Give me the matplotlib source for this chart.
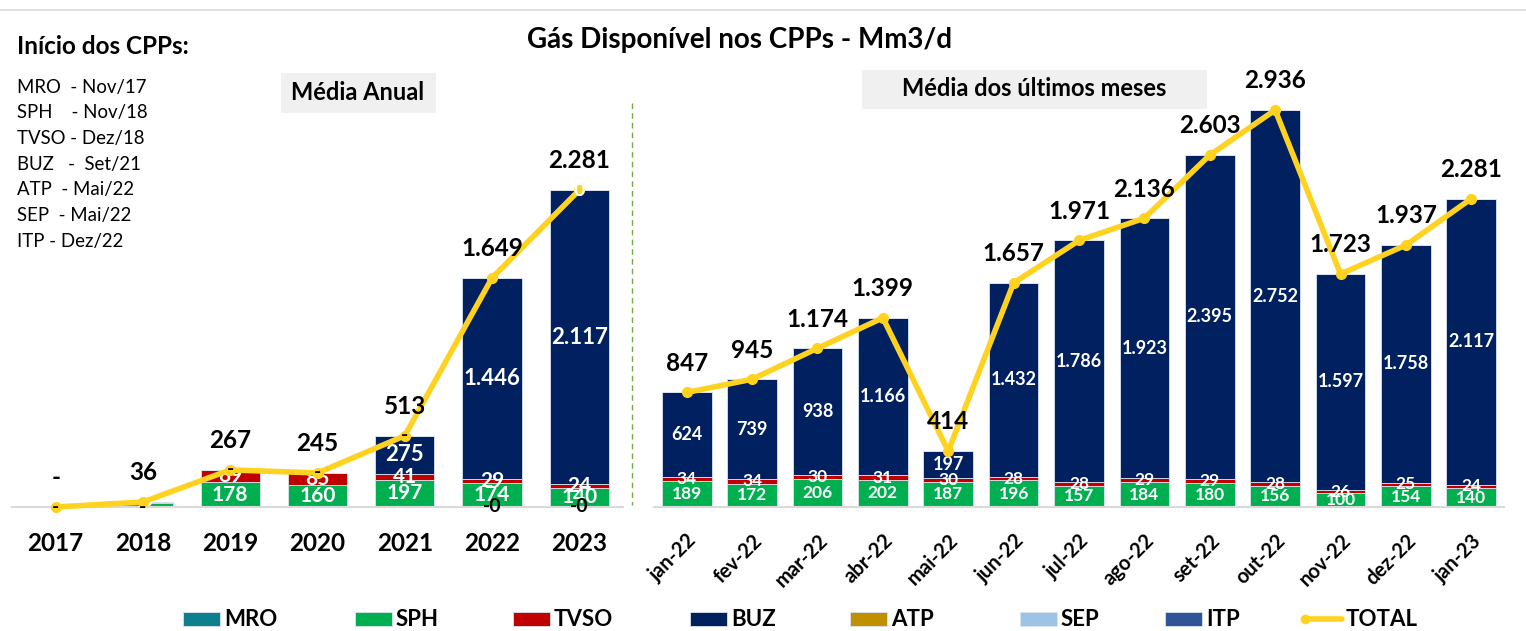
import matplotlib
matplotlib.use('Agg')
import matplotlib.pyplot as plt
from matplotlib.patches import Rectangle
from matplotlib.lines import Line2D

plt.rcParams['font.family'] = ['Lato', 'DejaVu Sans']

# ---------------- data ----------------
series = ['MRO', 'SPH', 'TVSO', 'BUZ', 'ATP', 'SEP', 'ITP']
colors = ['#0E7F8E', '#00B050', '#C00000', '#002060', '#BF9000', '#9DC3E6', '#2F5597']
total_color = '#FFD21F'

years = ['2017', '2018', '2019', '2020', '2021', '2022', '2023']
y_mro = [0, 0, 0, 0, 0, 0, 0]
y_sph = [0, 32, 178, 160, 197, 174, 140]
y_tvso = [0, 4, 89, 85, 41, 29, 24]
y_buz = [0, 0, 0, 0, 275, 1446, 2117]
y_atp = [0, 0, 0, 0, 0, 0, 0]
y_sep = [0, 0, 0, 0, 0, 0, 0]
y_itp = [0, 0, 0, 0, 0, 0, 0]
y_total = [0, 36, 267, 245, 513, 1649, 2281]
y_base_labels = ['-', '-', '', '', '', '-0', '-0']
y_top_labels = ['', '', '-', '-', '-', '', '0']

months = ['jan-22', 'fev-22', 'mar-22', 'abr-22', 'mai-22', 'jun-22', 'jul-22',
          'ago-22', 'set-22', 'out-22', 'nov-22', 'dez-22', 'jan-23']
m_mro = [0] * 13
m_sph = [189, 172, 206, 202, 187, 196, 157, 184, 180, 156, 100, 154, 140]
m_tvso = [34, 34, 30, 31, 30, 28, 28, 29, 29, 28, 26, 25, 24]
m_buz = [624, 739, 938, 1166, 197, 1432, 1786, 1923, 2395, 2752, 1597, 1758, 2117]
m_atp = [0] * 13
m_sep = [0] * 13
m_itp = [0] * 13
m_total = [847, 945, 1174, 1399, 414, 1657, 1971, 2136, 2603, 2936, 1723, 1937, 2281]

inicio_lines = ['MRO  - Nov/17', 'SPH    - Nov/18', 'TVSO - Dez/18', 'BUZ   -  Set/21',
                'ATP  - Mai/22', 'SEP  - Mai/22', 'ITP - Dez/22']


def fmt(v):
    if v == 0:
        return '-'
    return f'{v:,}'.replace(',', '.')


W, H = 1526, 631
fig = plt.figure(figsize=(W / 100, H / 100), dpi=100)


def px_rect(x0, y0, x1, y1):
    return [x0 / W, 1 - y1 / H, (x1 - x0) / W, (y1 - y0) / H]


def ftext(x, y, s, **kw):
    return fig.text(x / W, 1 - y / H, s, **kw)


def draw_panel(ax, cats, stacks, total, ymax, width, seg_fs, buz_fs, tot_fs):
    n = len(cats)
    xs = list(range(n))
    bottoms = [0] * n
    for name, vals, col in zip(series, stacks, colors):
        ax.bar(xs, vals, width, bottom=bottoms, color=col, edgecolor='#DCE3EE',
               linewidth=0.6, zorder=1)
        for i, v in enumerate(vals):
            if v >= 10 and name in ('SPH', 'TVSO', 'BUZ'):
                fs = buz_fs if name == 'BUZ' else seg_fs
                ax.text(i, bottoms[i] + v / 2, fmt(v), ha='center', va='center',
                        color='white', fontsize=fs, fontweight='bold', zorder=2)
        bottoms = [b + v for b, v in zip(bottoms, vals)]
    ax.plot(xs, total, color=total_color, lw=4, marker='o', ms=7,
            solid_joinstyle='miter', zorder=3, clip_on=False)
    for i, v in enumerate(total):
        ax.annotate(fmt(v), (i, v), xytext=(0, 21), textcoords='offset points',
                    ha='center', va='center', fontsize=tot_fs, fontweight='bold',
                    color='black', zorder=4, annotation_clip=False)
    ax.set_xlim(-0.5, n - 0.5)
    ax.set_ylim(0, ymax)
    for s in ('top', 'right', 'left'):
        ax.spines[s].set_visible(False)
    ax.spines['bottom'].set_color('#D9D9D9')
    ax.spines['bottom'].set_linewidth(1.5)
    ax.set_yticks([])
    ax.set_xticks(xs)
    ax.tick_params(axis='x', length=0)
    ax.patch.set_alpha(0)


# ---- left panel (annual) ----
axL = fig.add_axes(px_rect(12, 60, 623, 507))
draw_panel(axL, years,
           [y_mro, y_sph, y_tvso, y_buz, y_atp, y_sep, y_itp],
           y_total, 447 * 2281 / 317, 0.68, 15, 16, 17.5)
axL.set_xticklabels(years, fontsize=17.5, fontweight='bold')
axL.tick_params(axis='x', pad=18)
for i, s in enumerate(y_base_labels):
    if s:
        axL.text(i, 0, s, ha='center', va='center', fontsize=14, fontweight='bold',
                 color='black', zorder=4, clip_on=False)
for i, s in enumerate(y_top_labels):
    if s:
        axL.text(i, y_total[i], s, ha='center', va='center', fontsize=14, fontweight='bold',
                 color='white' if s == '0' else 'black', zorder=4)

# ---- right panel (monthly) ----
axR = fig.add_axes(px_rect(654, 60, 1504, 507))
draw_panel(axR, months,
           [m_mro, m_sph, m_tvso, m_buz, m_atp, m_sep, m_itp],
           m_total, 447 * 2936 / 397, 0.76, 12.5, 13, 17.5)
axR.set_xticklabels(months, fontsize=14.5, fontweight='bold', rotation=45,
                    ha='right', rotation_mode='anchor')
axR.tick_params(axis='x', pad=17)

# ---- separator & frame ----
fig.add_artist(Line2D([632 / W, 632 / W], [1 - 103 / H, 1 - 505 / H],
                      color='#70AD47', lw=1, ls=(0, (4, 3))))
fig.add_artist(Line2D([0, 1], [1 - 10 / H, 1 - 10 / H], color='#D9D9D9', lw=1.2))

# ---- titles & boxes ----
ftext(740, 40, 'Gás Disponível nos CPPs - Mm3/d', ha='center', va='center',
      fontsize=20, fontweight='bold')
fig.add_artist(Rectangle((281 / W, 1 - 113 / H), 155 / W, 40 / H,
                         transform=fig.transFigure, facecolor='#F0F0F0', edgecolor='none'))
ftext(358, 93, 'Média Anual', ha='center', va='center', fontsize=17, fontweight='bold')
fig.add_artist(Rectangle((862 / W, 1 - 109 / H), 345 / W, 39 / H,
                         transform=fig.transFigure, facecolor='#F0F0F0', edgecolor='none'))
ftext(1034, 89, 'Média dos últimos meses', ha='center', va='center', fontsize=17,
      fontweight='bold')

ftext(17, 47, 'Início dos CPPs:', ha='left', va='center', fontsize=17.5, fontweight='bold')
for k, s in enumerate(inicio_lines):
    ftext(17, 87 + k * 25.7, s, ha='left', va='center', fontsize=13.4)

# ---- legend ----
leg_x = [183, 355, 513, 690, 850, 1020, 1165]
for x, name, col in zip(leg_x, series, colors):
    fig.add_artist(Rectangle((x / W, 1 - 626 / H), 37 / W, 14 / H,
                             transform=fig.transFigure, facecolor=col, edgecolor='#DCE3EE',
                             lw=0.6))
    ftext(x + 41, 619, name, ha='left', va='center', fontsize=16, fontweight='bold')
fig.add_artist(Line2D([1305 / W, 1342 / W], [1 - 619 / H, 1 - 619 / H],
                      color=total_color, lw=4, marker='o', ms=6, markevery=[0],
                      transform=fig.transFigure, solid_capstyle='round'))
ftext(1346, 619, 'TOTAL', ha='left', va='center', fontsize=16, fontweight='bold')

fig.savefig('out.png', dpi=100)
